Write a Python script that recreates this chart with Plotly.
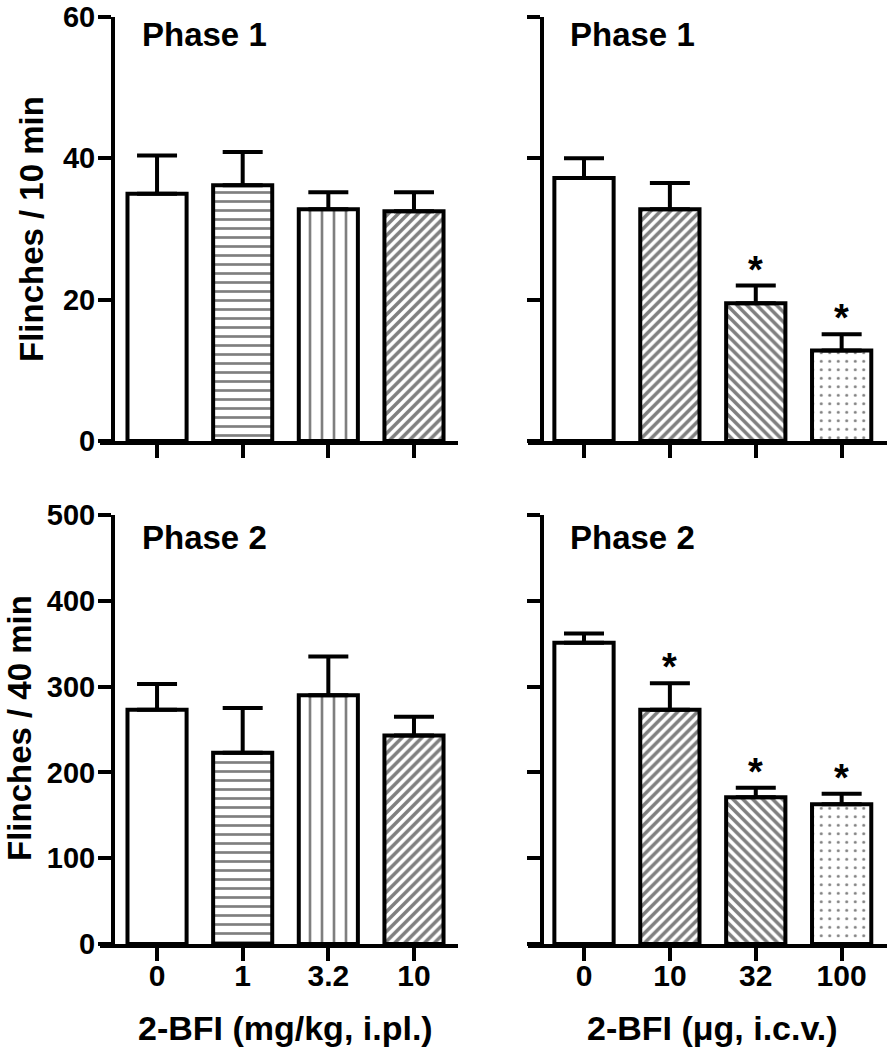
import plotly.graph_objects as go

# ---------------- data ----------------
ipl_doses = ["0", "1", "3.2", "10"]
icv_doses = ["0", "10", "32", "100"]

p1_ipl_mean = [35.0, 36.2, 32.8, 32.5]
p1_ipl_sem = [5.4, 4.7, 2.4, 2.7]
p1_icv_mean = [37.2, 32.8, 19.5, 12.8]
p1_icv_sem = [2.8, 3.7, 2.5, 2.3]

p2_ipl_mean = [273, 223, 290, 243]
p2_ipl_sem = [30, 52, 45, 22]
p2_icv_mean = [351, 273, 171, 163]
p2_icv_sem = [11, 31, 11, 12]

p1_icv_sig = [False, False, True, True]
p2_icv_sig = [False, True, True, True]

p1_ticks = [0, 20, 40, 60]
p2_ticks = [0, 100, 200, 300, 400, 500]

# ---------------- style ----------------
W, H = 887, 1050
FONT = "Liberation Sans, Arial, sans-serif"
LW = 4

ipl_pattern = dict(shape=["", "-", "|", "/"], size=[8, 9, 12, 7],
                   solidity=[0.2, 0.3, 0.22, 0.5], fgcolor="black", bgcolor="white")
icv_pattern = dict(shape=["", "/", "\\", "."], size=[8, 7, 7, 8.5],
                   solidity=[0.2, 0.5, 0.5, 0.1], fgcolor="black", bgcolor="white")


def px(xp):
    return xp / W


def py(yp):
    return 1 - yp / H


panels = [
    ("x", "y", ipl_doses, p1_ipl_mean, p1_ipl_sem, ipl_pattern, (100, 458), 113, (441, 17), [0, 60], p1_ticks, True, False, [-0.666, 3.514]),
    ("x2", "y2", icv_doses, p1_icv_mean, p1_icv_sem, icv_pattern, (528, 887), 542, (441, 17), [0, 60], p1_ticks, False, False, [-0.652, 3.528]),
    ("x3", "y3", ipl_doses, p2_ipl_mean, p2_ipl_sem, ipl_pattern, (100, 458), 113, (944, 515), [0, 500], p2_ticks, True, True, [-0.666, 3.514]),
    ("x4", "y4", icv_doses, p2_icv_mean, p2_icv_sem, icv_pattern, (528, 887), 542, (944, 515), [0, 500], p2_ticks, False, True, [-0.652, 3.528]),
]

fig = go.Figure()
layout = {}
for (xa, ya, doses, mean, sem, pat, xdom, yline, ydom, yr, ticks, ylab, xlab, xr) in panels:
    fig.add_trace(go.Bar(
        x=doses, y=mean, xaxis=xa, yaxis=ya, width=0.69,
        marker=dict(color="white", line=dict(color="black", width=LW), pattern=pat),
        error_y=dict(type="data", symmetric=False, array=sem, arrayminus=[0] * len(sem),
                     color="black", thickness=LW, width=20),
        showlegend=False, hoverinfo="skip",
    ))
    xkey = "xaxis" + xa[1:]
    ykey = "yaxis" + ya[1:]
    layout[xkey] = dict(
        domain=[px(xdom[0]), px(xdom[1])], range=xr, type="category",
        anchor=ya, showline=True, linewidth=LW, linecolor="black",
        ticks="outside", ticklen=13, tickwidth=LW, tickcolor="black",
        showticklabels=xlab, tickfont=dict(family=FONT, size=30, color="black", weight="bold"),
        ticklabelstandoff=-11, ticklabeloverflow="allow",
        showgrid=False, zeroline=False, fixedrange=True, automargin=False,
    )
    layout[ykey] = dict(
        domain=[py(ydom[0]), py(ydom[1])], range=yr, anchor="free", position=px(yline),
        showline=True, linewidth=LW, linecolor="black",
        ticks="outside", ticklen=13, tickwidth=LW, tickcolor="black",
        tickvals=ticks, showticklabels=ylab,
        tickfont=dict(family=FONT, size=29, color="black", weight="bold"),
        ticklabelstandoff=-3, ticklabeloverflow="allow",
        showgrid=False, zeroline=False, fixedrange=True, automargin=False,
    )

annotations = []
for txt, xp, yp in [("Phase 1", 140, 34), ("Phase 1", 568, 34), ("Phase 2", 140, 537), ("Phase 2", 568, 537)]:
    annotations.append(dict(text=txt, xref="paper", yref="paper", x=px(xp), y=py(yp),
                            xanchor="left", yanchor="middle", showarrow=False,
                            font=dict(family=FONT, size=33, color="black", weight="bold")))
for txt, xp, yp in [("Flinches / 10 min", 31, 229), ("Flinches / 40 min", 19, 728)]:
    annotations.append(dict(text=txt, xref="paper", yref="paper", x=px(xp), y=py(yp),
                            xanchor="center", yanchor="middle", textangle=-90, showarrow=False,
                            font=dict(family=FONT, size=33, color="black", weight="bold")))
for txt, xp, yp in [("2-BFI (mg/kg, i.pl.)", 285, 1028), ("2-BFI (μg, i.c.v.)", 712, 1028)]:
    annotations.append(dict(text=txt, xref="paper", yref="paper", x=px(xp), y=py(yp),
                            xanchor="center", yanchor="middle", showarrow=False,
                            font=dict(family=FONT, size=34, color="black", weight="bold")))
for xa, ya, mean, sem, sig in [("x2", "y2", p1_icv_mean, p1_icv_sem, p1_icv_sig),
                               ("x4", "y4", p2_icv_mean, p2_icv_sem, p2_icv_sig)]:
    for i, s in enumerate(sig):
        if s:
            annotations.append(dict(text="*", xref=xa, yref=ya, x=i, y=mean[i] + sem[i],
                                    xanchor="center", yanchor="middle", yshift=16, showarrow=False,
                                    font=dict(family=FONT, size=38, color="black", weight="bold")))

fig.update_layout(
    width=W, height=H, margin=dict(l=0, r=0, t=0, b=0, pad=0, autoexpand=False),
    paper_bgcolor="white", plot_bgcolor="white",
    annotations=annotations, hovermode=False,
    **layout,
)

fig.write_html("out.html", post_script="document.body.style.margin='0';",
               config={"displayModeBar": False, "staticPlot": True})
